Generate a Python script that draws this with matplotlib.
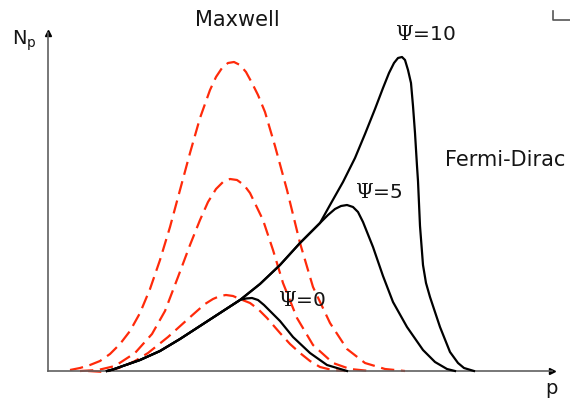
import matplotlib
matplotlib.use('Agg')
import matplotlib.pyplot as plt

plt.rcParams['font.family'] = 'DejaVu Sans'

RED = '#ff2a0a'
INK = '#151515'
AXC = '#606060'

# Maxwell curves (dashed), momentum p vs N_p, arbitrary units
mx_big_x = [2.2, 3.2, 4.2, 5.2, 6.2, 7.2, 8.2, 9.2, 10.2, 11.2, 12.2, 13.2, 14.2, 15.2, 16.2, 16.8,
            17.4, 18.0, 18.6, 19.2, 19.8, 20.4, 21.0, 21.7, 22.7, 23.9, 25.2, 26.5, 28.2, 29.9,
            31.7, 33.7, 35.7]
mx_big_y = [0.1, 0.3, 0.6, 1.0, 1.7, 2.7, 4.0, 5.8, 8.2, 11.1, 14.4, 18.1, 21.8, 25.3, 28.1, 29.4,
            30.3, 30.8, 30.9, 30.6, 29.9, 28.8, 27.6, 25.9, 22.5, 18.1, 12.8, 8.4, 4.8, 2.2,
            0.8, 0.2, 0.0]
mx_mid_x = [3.2, 5.0, 6.7, 8.7, 10.4, 11.7, 13.0, 14.2, 15.2, 16.0, 16.8, 17.5, 18.2, 18.9, 19.6,
            20.2, 21.5, 22.5, 23.5, 24.9, 26.5, 28.5, 30.2, 32.2]
mx_mid_y = [0.0, 0.1, 0.5, 1.8, 3.7, 6.0, 9.4, 12.6, 15.1, 16.9, 18.2, 18.9, 19.2, 19.1, 18.6,
            17.8, 15.1, 12.1, 8.8, 5.3, 2.6, 0.8, 0.2, 0.0]
mx_low_x = [4.0, 5.7, 7.4, 8.7, 10.0, 11.0, 12.0, 13.0, 14.0, 14.9, 15.7, 16.5, 17.2, 17.8, 18.5,
            19.2, 20.2, 21.0, 21.9, 23.2, 24.2, 25.2, 26.2, 27.2, 28.4, 29.7]
mx_low_y = [0.0, -0.1, 0.4, 1.0, 1.8, 2.6, 3.4, 4.3, 5.2, 6.0, 6.7, 7.2, 7.5, 7.6, 7.5,
            7.2, 6.8, 6.2, 5.3, 3.8, 2.7, 1.8, 1.0, 0.4, 0.1, 0.0]

# Fermi-Dirac curves (solid): common rising part, then one tail per Psi
fd_common_x = [5.9, 6.5, 7.2, 9.2, 11.2, 13.2, 15.2, 17.2, 19.2]
fd_common_y = [0.0, 0.15, 0.4, 1.1, 2.0, 3.2, 4.5, 5.8, 7.1]
fd0_x = [19.8, 20.4, 21.0, 21.6, 22.2, 23.2, 24.5, 26.2, 27.9, 29.9]
fd0_y = [7.25, 7.3, 7.1, 6.6, 6.0, 5.0, 3.4, 1.8, 0.6, 0.0]
fd_mid_x = [21.2, 23.2, 25.2, 27.2]
fd_mid_y = [8.7, 10.6, 12.8, 14.8]
fd5_x = [28.0, 28.7, 29.3, 29.9, 30.5, 31.0, 31.5, 32.5, 33.5, 34.5, 35.9, 37.5, 38.7, 39.9, 40.7]
fd5_y = [15.6, 16.2, 16.5, 16.6, 16.4, 15.9, 14.9, 12.4, 9.5, 6.9, 4.4, 2.1, 0.9, 0.2, 0.0]
fd10_x = [28.2, 29.5, 30.7, 31.7, 32.7, 33.5, 34.1, 34.6, 35.0, 35.4, 35.7, 36.0, 36.3, 36.5,
          36.7, 36.9, 37.0, 37.2, 37.5, 37.8, 38.2, 39.2, 40.2, 41.0, 41.6, 42.6]
fd10_y = [16.6, 18.9, 21.3, 23.7, 26.2, 28.3, 29.8, 30.8, 31.3, 31.4, 31.1, 30.1, 28.8, 26.5,
          23.8, 20.5, 19.0, 14.5, 10.6, 8.8, 7.4, 4.4, 1.9, 0.8, 0.3, 0.0]

fig = plt.figure(figsize=(5.7, 4.0), dpi=100)
ax = fig.add_axes([48/570, 29/400, 504/570, 338/400])
ax.set_xlim(0, 50.4)
ax.set_ylim(0, 33.8)
ax.set_xticks([]); ax.set_yticks([])
for s in ['top', 'right']:
    ax.spines[s].set_visible(False)
for s in ['left', 'bottom']:
    ax.spines[s].set_color(AXC)
    ax.spines[s].set_linewidth(1.2)
ax.plot([0], [33.8], marker='^', color='black', ms=5, clip_on=False)
ax.plot([50.4], [0], marker='>', color='black', ms=5, clip_on=False)

for xs, ys in [(mx_big_x, mx_big_y), (mx_mid_x, mx_mid_y), (mx_low_x, mx_low_y)]:
    ax.plot(xs, ys, color=RED, lw=1.6, dashes=(6, 3), clip_on=False, zorder=2,
            solid_joinstyle='round')

shared_hi_x = fd_common_x + fd_mid_x
shared_hi_y = fd_common_y + fd_mid_y
for xs, ys in [(fd_common_x + fd0_x, fd_common_y + fd0_y),
               (shared_hi_x + fd5_x, shared_hi_y + fd5_y),
               (shared_hi_x + fd10_x, shared_hi_y + fd10_y)]:
    ax.plot(xs, ys, color='black', lw=1.6, clip_on=False, zorder=3, solid_joinstyle='round')

def ft(x, y, s, **kw):
    fig.text(x/570, 1 - y/400, s, ha='center', va='center', color=INK, **kw)

ft(237, 20, 'Maxwell', fontsize=15)
ft(505, 160, 'Fermi-Dirac', fontsize=15)
ft(425, 35, r'$\Psi$=10', fontsize=14.5, math_fontfamily='dejavuserif')
ft(379, 193, r'$\Psi$=5', fontsize=14.5, math_fontfamily='dejavuserif')
ft(302, 301, r'$\Psi$=0', fontsize=14.5, math_fontfamily='dejavuserif')
ft(24, 41, r'$\mathregular{N_p}$', fontsize=14)
ft(551, 389, 'p', fontsize=14)

# small corner mark top right
fig.add_artist(plt.Line2D([553/570, 553/570, 1.0], [1 - 11/400, 1 - 20/400, 1 - 20/400],
                          transform=fig.transFigure, color='#555555', lw=1.2))

fig.savefig('out.png', dpi=100)
